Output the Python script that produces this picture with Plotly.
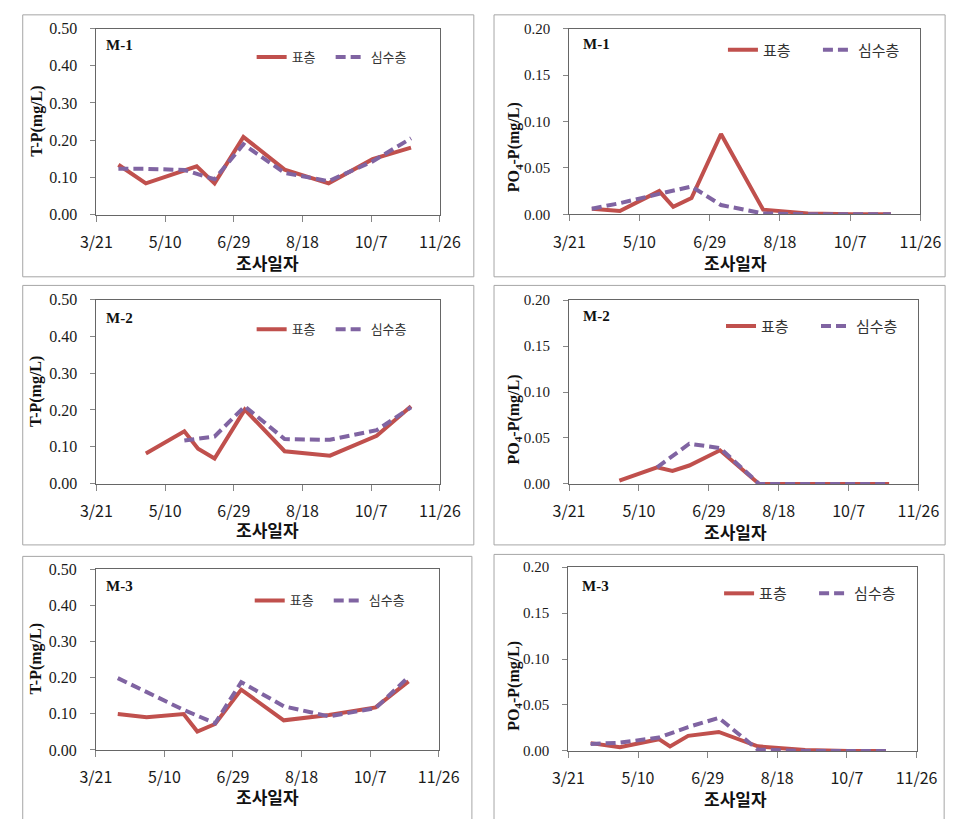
import plotly.graph_objects as go

# ---------------------------------------------------------------------------
# Data: T-P and PO4-P at three stations (M-1, M-2, M-3), surface vs. bottom
# ---------------------------------------------------------------------------
YEAR = 2010
SERIES_SURFACE = "표층"
SERIES_BOTTOM = "심수층"

x_tick_labels = ["3/21", "5/10", "6/29", "8/18", "10/7", "11/26"]
tp_tick_values = [0.0, 0.1, 0.2, 0.3, 0.4, 0.5]
po4_tick_values = [0.0, 0.05, 0.10, 0.15, 0.20]

# M-1, T-P
m1_tp_surface_dates = ["4/6", "4/26", "6/2", "6/15", "7/6", "8/5", "9/6", "10/8", "11/5"]
m1_tp_surface = [0.134, 0.084, 0.130, 0.084, 0.209, 0.121, 0.084, 0.149, 0.180]
m1_tp_bottom_dates = ["4/6", "4/26", "5/24", "6/15", "7/6", "8/5", "9/6", "10/8", "11/5"]
m1_tp_bottom = [0.123, 0.123, 0.120, 0.095, 0.189, 0.112, 0.090, 0.143, 0.205]

# M-1, PO4-P
m1_po4_surface_dates = ["4/6", "4/26", "5/24", "6/3", "6/16", "7/7", "8/6", "9/7", "10/8", "11/5"]
m1_po4_surface = [0.006, 0.0036, 0.025, 0.008, 0.0176, 0.0865, 0.005, 0.001, 0.0, 0.0]
m1_po4_bottom_dates = ["4/6", "4/26", "5/24", "6/16", "7/7", "8/6", "9/7", "10/8", "11/5"]
m1_po4_bottom = [0.006, 0.012, 0.022, 0.030, 0.010, 0.001, 0.0, 0.0, 0.0]

# M-2, T-P
m2_tp_surface_dates = ["4/26", "5/24", "6/3", "6/15", "7/7", "8/5", "9/7", "10/11", "11/5"]
m2_tp_surface = [0.082, 0.142, 0.095, 0.068, 0.201, 0.088, 0.076, 0.130, 0.210]
m2_tp_bottom_dates = ["5/24", "6/15", "7/7", "8/5", "9/7", "10/11", "11/5"]
m2_tp_bottom = [0.117, 0.128, 0.210, 0.121, 0.119, 0.145, 0.207]

# M-2, PO4-P
m2_po4_surface_dates = ["4/26", "5/23", "6/3", "6/15", "7/7", "8/4", "9/7", "10/8", "11/5"]
m2_po4_surface = [0.0035, 0.018, 0.0142, 0.020, 0.0366, 0.0, 0.0, 0.0, 0.0]
m2_po4_bottom_dates = ["5/23", "6/15", "7/7", "8/4", "9/7", "10/8", "11/5"]
m2_po4_bottom = [0.018, 0.0437, 0.039, 0.0, 0.0, 0.0, 0.0]

# M-3, T-P
m3_tp_surface_dates = ["4/6", "4/27", "5/24", "6/3", "6/16", "7/5", "8/5", "9/7", "10/11", "11/4"]
m3_tp_surface = [0.0995, 0.0905, 0.0995, 0.051, 0.072, 0.167, 0.082, 0.097, 0.118, 0.190]
m3_tp_bottom_dates = ["4/6", "4/27", "5/24", "6/16", "7/5", "8/5", "9/7", "10/11", "11/4"]
m3_tp_bottom = [0.199, 0.160, 0.111, 0.074, 0.188, 0.121, 0.093, 0.116, 0.202]

# M-3, PO4-P
m3_po4_surface_dates = ["4/6", "4/27", "5/25", "6/2", "6/15", "7/7", "8/4", "9/7", "10/8", "11/4"]
m3_po4_surface = [0.0085, 0.004, 0.0128, 0.005, 0.0164, 0.0207, 0.005, 0.001, 0.0, 0.0]
m3_po4_bottom_dates = ["4/6", "4/27", "5/25", "6/15", "7/7", "8/4", "9/7", "10/8", "11/4"]
m3_po4_bottom = [0.0075, 0.009, 0.0146, 0.026, 0.036, 0.0015, 0.0, 0.0, 0.0]

# ---------------------------------------------------------------------------
# Figure geometry (pixels) and styling
# ---------------------------------------------------------------------------
W, H = 969, 819
RED = "#C0504D"
PURPLE = "#8064A2"
SERIF = "Liberation Serif, Times New Roman, serif"
KR = "Noto Sans CJK KR, sans-serif"


def to_date(md):
    m, d = md.split("/")
    return f"{YEAR}-{int(m):02d}-{int(d):02d}"


def px_x(x):
    return x / W


def px_y(y):
    return 1 - y / H


panels = [
    dict(station="M-1", kind="tp", area=(83.6, 21, 440.7, 211), box=(7, 7, 476, 274.5),
         legend=(252, 50, 13, 77), label=(92, 38), ytitle=(21, 116), xtitle=(262, 260), yfont=16,
         data=(m1_tp_surface_dates, m1_tp_surface, m1_tp_bottom_dates, m1_tp_bottom)),
    dict(station="M-1", kind="po4", area=(575.3, 21, 940.3, 210.7), box=(497, 7, 966, 274.5),
         legend=(742, 43, 15, 93), label=(587, 37), ytitle=(518, 142), xtitle=(748, 260), yfont=15,
         data=(m1_po4_surface_dates, m1_po4_surface, m1_po4_bottom_dates, m1_po4_bottom)),
    dict(station="M-2", kind="tp", area=(83.6, 297.7, 440.7, 485.7), box=(7, 283.3, 476, 548.3),
         legend=(252, 328, 13, 77), label=(92, 317), ytitle=(21, 392), xtitle=(262, 533), yfont=16,
         data=(m2_tp_surface_dates, m2_tp_surface, m2_tp_bottom_dates, m2_tp_bottom)),
    dict(station="M-2", kind="po4", area=(575, 298.3, 938.3, 486), box=(497, 283.3, 966, 548.3),
         legend=(740, 325, 15, 93), label=(587, 315), ytitle=(518, 420), xtitle=(748, 535), yfont=15,
         data=(m2_po4_surface_dates, m2_po4_surface, m2_po4_bottom_dates, m2_po4_bottom)),
    dict(station="M-3", kind="tp", area=(83, 573.3, 439.5, 757.7), box=(7, 560, 474, 830),
         legend=(250, 605, 13, 77), label=(92, 590), ytitle=(21, 665), xtitle=(261, 805), yfont=16,
         data=(m3_tp_surface_dates, m3_tp_surface, m3_tp_bottom_dates, m3_tp_bottom)),
    dict(station="M-3", kind="po4", area=(574.3, 571, 936.3, 758.7), box=(497, 558, 965, 830),
         legend=(738, 598, 15, 93), label=(586, 590), ytitle=(518, 692), xtitle=(748, 807), yfont=15,
         data=(m3_po4_surface_dates, m3_po4_surface, m3_po4_bottom_dates, m3_po4_bottom)),
]

fig = go.Figure()
layout = dict(
    width=W, height=H,
    margin=dict(l=0, r=0, t=0, b=0),
    paper_bgcolor="white", plot_bgcolor="white",
    shapes=[], annotations=[],
)

x_tick_dates = [to_date(t) for t in x_tick_labels]

for i, p in enumerate(panels, start=1):
    sfx = "" if i == 1 else str(i)
    xa, ya = f"x{sfx}", f"y{sfx}"
    leg = "legend" if i == 1 else f"legend{i}"
    x0, y0, x1, y1 = p["area"]
    s_dates, s_vals, b_dates, b_vals = p["data"]

    fig.add_trace(go.Scatter(
        x=[to_date(d) for d in s_dates], y=s_vals, name=SERIES_SURFACE, mode="lines",
        line=dict(color=RED, width=4), xaxis=xa, yaxis=ya, legend=leg))
    fig.add_trace(go.Scatter(
        x=[to_date(d) for d in b_dates], y=b_vals, name=SERIES_BOTTOM, mode="lines",
        line=dict(color=PURPLE, width=4, dash="10px,5px"), xaxis=xa, yaxis=ya, legend=leg))

    if p["kind"] == "tp":
        yvals, yrange = tp_tick_values, [0, 0.5]
        ytitle = "T-P(mg/L)"
    else:
        yvals, yrange = po4_tick_values, [0, 0.2]
        ytitle = "PO<sub>4</sub>-P(mg/L)"

    layout[f"xaxis{sfx}"] = dict(
        domain=[px_x(x0), px_x(x1)], anchor=ya, type="date",
        range=[to_date("3/21"), to_date("11/26")],
        tickmode="array", tickvals=x_tick_dates, ticktext=x_tick_labels,
        ticks="outside", ticklen=6, tickcolor="#868686", tickwidth=1,
        showline=True, linecolor="#666666", linewidth=1, mirror=True,
        showgrid=False, zeroline=False, ticklabelstandoff=7,
        tickfont=dict(family=KR, size=16, color="#1a1a1a"),
    )
    layout[f"yaxis{sfx}"] = dict(
        domain=[px_y(y1), px_y(y0)], anchor=xa, range=yrange,
        tickmode="array", tickvals=yvals, tickformat=".2f",
        ticks="outside", ticklen=5, tickcolor="#868686", tickwidth=1,
        showline=True, linecolor="#666666", linewidth=1, mirror=True,
        showgrid=False, zeroline=False, ticklabelstandoff=10,
        tickfont=dict(family=SERIF, size=p["yfont"], color="#1a1a1a"),
    )

    lx, ly, lsize, lentry = p["legend"]
    layout[leg] = dict(
        orientation="h", x=px_x(lx - 7), y=px_y(ly), xanchor="left", yanchor="middle",
        bgcolor="rgba(0,0,0,0)", borderwidth=0, itemwidth=30,
        entrywidth=lentry - 43, entrywidthmode="pixels",
        font=dict(family=KR, size=lsize, color="#333333"),
    )

    bx0, by0, bx1, by1 = p["box"]
    layout["shapes"].append(dict(
        type="rect", xref="paper", yref="paper",
        x0=px_x(bx0), x1=px_x(bx1), y0=px_y(by1), y1=px_y(by0),
        line=dict(color="#A6A6A6", width=1), layer="below"))

    mx, my = p["label"]
    layout["annotations"].append(dict(
        text="<b>%s</b>" % p["station"], xref="paper", yref="paper",
        x=px_x(mx), y=px_y(my), xanchor="left", yanchor="middle", showarrow=False,
        font=dict(family=SERIF, size=15, color="#111111")))

    tx, ty = p["ytitle"]
    layout["annotations"].append(dict(
        text="<b>%s</b>" % ytitle, xref="paper", yref="paper", textangle=-90,
        x=px_x(tx), y=px_y(ty), xanchor="center", yanchor="middle", showarrow=False,
        font=dict(family=SERIF, size=16, color="#111111")))

    gx, gy = p["xtitle"]
    layout["annotations"].append(dict(
        text="<b>조사일자</b>", xref="paper", yref="paper",
        x=px_x(gx), y=px_y(gy), xanchor="center", yanchor="middle", showarrow=False,
        font=dict(family=KR, size=17, color="#111111")))

fig.update_layout(**layout)

# Pin the fixed-size figure to the top-left corner of the page (no body margin).
fig.write_html(
    "out.html",
    post_script="document.body.style.margin='0';document.body.style.overflow='hidden';",
)
